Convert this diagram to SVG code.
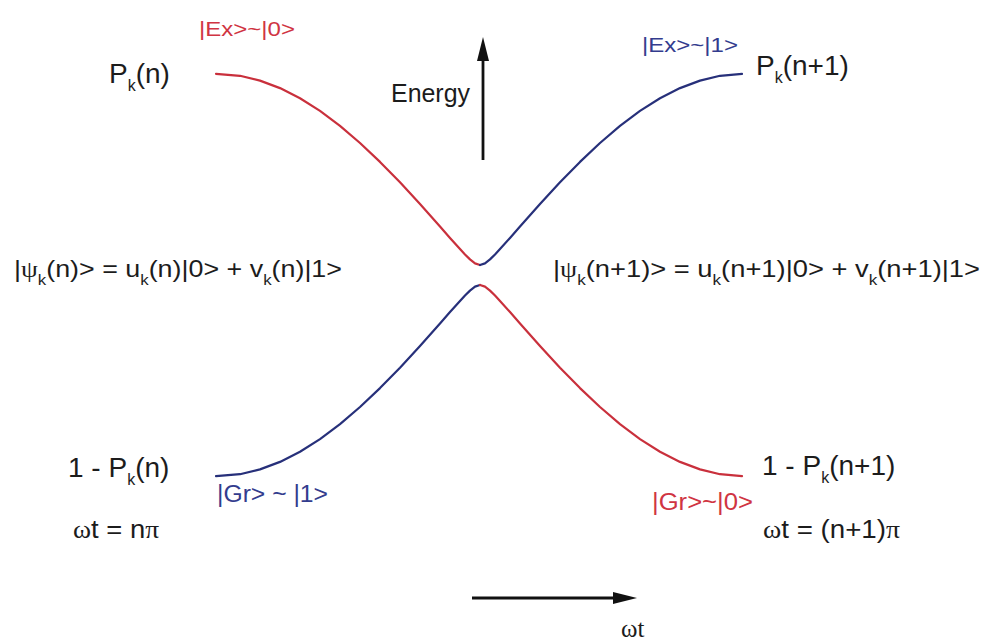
<svg xmlns="http://www.w3.org/2000/svg" width="992" height="643" viewBox="0 0 992 643">
<defs>
<style>
.t{font-family:"Liberation Sans",Arial,sans-serif;fill:#1c1c1c}
.s{font-family:"Liberation Serif","Times New Roman",serif}
.red{fill:#d03442}
.blue{fill:#333c8e}
.cr{fill:none;stroke:#c9303c;stroke-width:2.2;stroke-linejoin:round;stroke-linecap:round}
.cb{fill:none;stroke:#27307a;stroke-width:2.2;stroke-linejoin:round;stroke-linecap:round}
.ax{stroke:#111;stroke-width:2.8;fill:none}
</style>
<marker id="ah" viewBox="0 0 24 12" refX="0" refY="6" markerWidth="24" markerHeight="12" markerUnits="userSpaceOnUse" orient="auto">
<path d="M0,0 L24,6 L0,12 z" fill="#111"/>
</marker>
</defs>
<rect width="992" height="643" fill="#fff"/>
<g id="connectors">
<polyline id="upper-left-red" class="cr" points="216,73.8 240,75.8 260,80.6 280,88.1 300,98.3 320,110.9 340,125.9 360,143 380,161.9 400,182.3 420,204 440,226.6 450,237.9 460,249.1 465,254.5 470,259.4 475,263.4 480,265"/>
<polyline id="upper-right-blue" class="cb" points="480,265 485,263.4 490,259.4 495,254.5 500,249.1 510,237.9 520,226.6 540,204 560,182.3 580,161.9 600,143 620,125.9 640,110.9 660,98.3 680,88.1 700,80.6 720,75.8 742,73.8"/>
<polyline id="lower-left-blue" class="cb" points="216,476.2 240,474.2 260,469.4 280,461.9 300,451.7 320,439.1 340,424.1 360,407 380,388.1 400,367.7 420,346 440,323.4 450,312.1 460,300.9 465,295.5 470,290.6 475,286.6 480,285"/>
<polyline id="lower-right-red" class="cr" points="480,285 485,286.6 490,290.6 495,295.5 500,300.9 510,312.1 520,323.4 540,346 560,367.7 580,388.1 600,407 620,424.1 640,439.1 660,451.7 680,461.9 700,469.4 720,474.2 742,476.2"/>
<line id="energy-arrow" class="ax" x1="483" y1="160" x2="483" y2="61" marker-end="url(#ah)"/>
<line id="time-arrow" class="ax" x1="472" y1="598" x2="613" y2="598" marker-end="url(#ah)"/>
</g>
<g id="ex0"><text class="t red" x="199" y="36" font-size="21" textLength="96" lengthAdjust="spacingAndGlyphs">|Ex&gt;~|0&gt;</text></g>
<g id="ex1"><text class="t blue" x="642" y="52" font-size="21" textLength="96" lengthAdjust="spacingAndGlyphs">|Ex&gt;~|1&gt;</text></g>
<g id="pkn"><text class="t" x="109" y="83" font-size="28">P<tspan dy="8" font-size="16">k</tspan><tspan dy="-8">(n)</tspan></text></g>
<g id="pkn1"><text class="t" x="756" y="75" font-size="28">P<tspan dy="8" font-size="16">k</tspan><tspan dy="-8">(n+1)</tspan></text></g>
<g id="energy"><text class="t" x="391" y="102" font-size="26" textLength="79" lengthAdjust="spacingAndGlyphs">Energy</text></g>
<g id="psi-n"><text class="t" x="14" y="277" font-size="24" textLength="328" lengthAdjust="spacingAndGlyphs">|<tspan class="s">ψ</tspan><tspan dy="8" font-size="15">k</tspan><tspan dy="-8">(n)&gt; = u</tspan><tspan dy="8" font-size="15">k</tspan><tspan dy="-8">(n)|0&gt; + v</tspan><tspan dy="8" font-size="15">k</tspan><tspan dy="-8">(n)|1&gt;</tspan></text></g>
<g id="psi-n1"><text class="t" x="553" y="277" font-size="24" textLength="427" lengthAdjust="spacingAndGlyphs">|<tspan class="s">ψ</tspan><tspan dy="8" font-size="15">k</tspan><tspan dy="-8">(n+1)&gt; = u</tspan><tspan dy="8" font-size="15">k</tspan><tspan dy="-8">(n+1)|0&gt; + v</tspan><tspan dy="8" font-size="15">k</tspan><tspan dy="-8">(n+1)|1&gt;</tspan></text></g>
<g id="one-pkn"><text class="t" x="68" y="477" font-size="28">1 - P<tspan dy="8" font-size="16">k</tspan><tspan dy="-8">(n)</tspan></text></g>
<g id="one-pkn1"><text class="t" x="762" y="475" font-size="28">1 - P<tspan dy="8" font-size="16">k</tspan><tspan dy="-8">(n+1)</tspan></text></g>
<g id="gr1"><text class="t blue" x="217" y="502" font-size="23" textLength="111" lengthAdjust="spacingAndGlyphs">|Gr&gt; ~ |1&gt;</text></g>
<g id="gr0"><text class="t red" x="652" y="510" font-size="23" textLength="101" lengthAdjust="spacingAndGlyphs">|Gr&gt;~|0&gt;</text></g>
<g id="wt-n"><text class="t" x="73" y="538" font-size="25" textLength="86" lengthAdjust="spacingAndGlyphs"><tspan class="s">ω</tspan>t = n<tspan class="s">π</tspan></text></g>
<g id="wt-n1"><text class="t" x="763" y="538" font-size="25" textLength="137" lengthAdjust="spacingAndGlyphs"><tspan class="s">ω</tspan>t = (n+1)<tspan class="s">π</tspan></text></g>
<g id="wt"><text class="t s" x="621" y="637" font-size="25">ωt</text></g>
</svg>
